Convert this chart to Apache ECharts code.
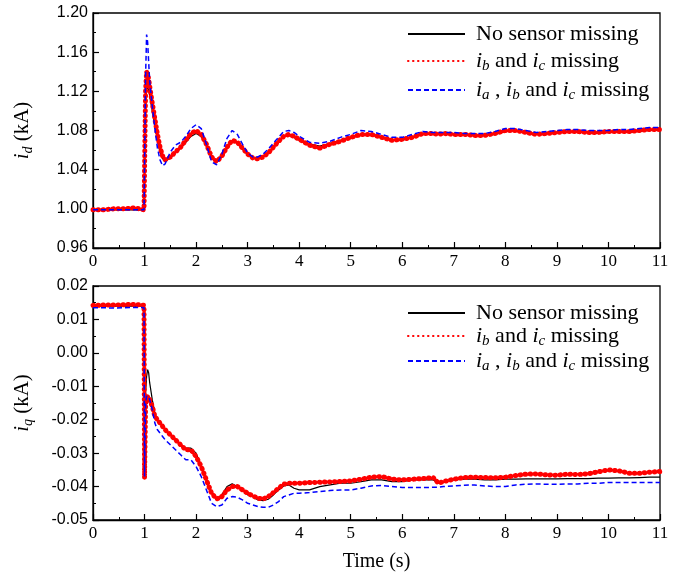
<!DOCTYPE html>
<html><head><meta charset="utf-8">
<script src="https://cdn.jsdelivr.net/npm/echarts@6/dist/echarts.min.js"></script>
<style>html,body{margin:0;padding:0;background:#fff}#c{width:682px;height:576px}</style>
</head><body><div id="c"></div>
<script>
const time = [0,0.2,0.4,0.6,0.8,0.99,1.0,1.02,1.04,1.06,1.08,1.1,1.15,1.2,1.25,1.3,1.35,1.4,
1.5,1.6,1.7,1.8,1.9,2.0,2.1,2.2,2.3,2.4,2.5,2.6,2.7,2.8,2.9,3.0,3.1,3.2,3.3,3.4,3.5,3.6,3.7,3.8,3.9,4.0,
4.2,4.4,4.6,4.8,5.0,5.2,5.4,5.6,5.8,6.0,6.2,6.4,6.6,6.7,6.8,
7.0,7.2,7.4,7.6,7.8,8.0,8.2,8.4,8.6,8.8,9.0,9.2,9.4,9.6,9.8,10.0,10.2,10.4,10.6,10.8,11.0];

const idNone = [0.999,0.999,0.999,0.999,0.999,0.999,1.000,1.100,1.125,1.127,1.122,1.115,1.100,1.085,1.070,1.058,1.051,1.049,
1.052,1.057,1.062,1.068,1.074,1.077,1.074,1.064,1.052,1.048,1.053,1.062,1.069,1.067,1.061,1.055,1.052,1.051,1.053,1.057,1.063,1.069,1.074,1.075,1.073,1.070,
1.066,1.064,1.067,1.070,1.073,1.076,1.076,1.073,1.070,1.070,1.073,1.076,1.076,1.076,1.076,
1.076,1.075,1.075,1.075,1.076,1.079,1.080,1.077,1.076,1.077,1.078,1.079,1.078,1.078,1.077,1.078,1.079,1.078,1.079,1.080,1.080];
const idBC = [0.999,0.999,1.000,1.000,1.001,0.999,1.000,1.120,1.140,1.138,1.133,1.125,1.108,1.092,1.076,1.063,1.054,1.050,
1.053,1.058,1.063,1.070,1.077,1.080,1.076,1.066,1.053,1.048,1.054,1.063,1.070,1.068,1.062,1.056,1.052,1.051,1.053,1.057,1.063,1.069,1.074,1.076,1.074,1.071,
1.065,1.062,1.066,1.069,1.073,1.076,1.076,1.073,1.070,1.071,1.073,1.077,1.077,1.076,1.077,
1.076,1.076,1.075,1.075,1.077,1.080,1.080,1.078,1.076,1.077,1.078,1.079,1.079,1.078,1.078,1.079,1.079,1.079,1.080,1.081,1.081];
const idABC = [0.999,0.999,0.999,0.999,0.999,0.999,1.000,1.135,1.178,1.170,1.150,1.130,1.105,1.082,1.062,1.050,1.044,1.046,
1.058,1.065,1.068,1.074,1.082,1.086,1.082,1.066,1.048,1.045,1.056,1.072,1.080,1.076,1.066,1.057,1.053,1.053,1.056,1.061,1.067,1.073,1.079,1.080,1.078,1.074,
1.068,1.067,1.069,1.073,1.076,1.080,1.079,1.076,1.073,1.073,1.076,1.079,1.078,1.078,1.078,
1.078,1.077,1.077,1.077,1.079,1.082,1.082,1.080,1.078,1.079,1.080,1.081,1.081,1.080,1.080,1.080,1.081,1.081,1.082,1.083,1.083];

const iqNone = [0.0140,0.0140,0.0140,0.0140,0.0140,0.0140,-0.0300,-0.012,-0.007,-0.005,-0.006,-0.009,-0.014,-0.018,-0.020,-0.021,-0.022,-0.023,
-0.0245,-0.026,-0.0275,-0.0285,-0.0285,-0.030,-0.034,-0.038,-0.042,-0.0438,-0.0425,-0.040,-0.0392,-0.040,-0.041,-0.0425,-0.043,-0.044,-0.0442,-0.0438,-0.0425,-0.041,-0.0398,-0.0395,-0.0405,-0.041,
-0.041,-0.040,-0.0395,-0.039,-0.039,-0.0385,-0.038,-0.038,-0.0385,-0.0385,-0.038,-0.038,-0.038,-0.039,-0.0385,
-0.038,-0.0378,-0.0378,-0.038,-0.038,-0.0378,-0.0378,-0.0377,-0.0377,-0.0377,-0.0377,-0.0376,-0.0376,-0.0376,-0.0375,-0.0375,-0.0374,-0.0374,-0.0373,-0.0372,-0.0372];
const iqBC = [0.0142,0.0143,0.0143,0.0144,0.0145,0.0142,-0.0375,-0.016,-0.014,-0.013,-0.013,-0.014,-0.016,-0.019,-0.020,-0.021,-0.022,-0.023,
-0.0245,-0.026,-0.0275,-0.029,-0.029,-0.031,-0.034,-0.038,-0.042,-0.0437,-0.043,-0.041,-0.040,-0.040,-0.041,-0.042,-0.0428,-0.0435,-0.0437,-0.043,-0.0418,-0.0405,-0.0393,-0.039,-0.039,-0.039,
-0.0388,-0.0387,-0.0386,-0.0385,-0.0383,-0.0378,-0.0372,-0.037,-0.0378,-0.038,-0.0378,-0.0376,-0.0373,-0.039,-0.0385,
-0.0378,-0.0373,-0.0372,-0.0373,-0.0374,-0.0372,-0.0367,-0.0363,-0.0362,-0.0365,-0.0366,-0.0363,-0.0364,-0.0362,-0.0356,-0.035,-0.0353,-0.036,-0.036,-0.0357,-0.0355];
const iqABC = [0.0135,0.0135,0.0134,0.0135,0.0136,0.0135,-0.0370,-0.015,-0.013,-0.0125,-0.013,-0.014,-0.017,-0.021,-0.023,-0.024,-0.025,-0.026,
-0.0275,-0.029,-0.0305,-0.032,-0.032,-0.034,-0.037,-0.041,-0.045,-0.046,-0.0455,-0.0435,-0.043,-0.0432,-0.044,-0.045,-0.0455,-0.046,-0.0462,-0.0462,-0.0455,-0.0445,-0.043,-0.0425,-0.042,-0.042,
-0.0418,-0.0415,-0.0412,-0.041,-0.041,-0.0405,-0.0398,-0.0397,-0.040,-0.0403,-0.0403,-0.0403,-0.0402,-0.0402,-0.040,
-0.0398,-0.0396,-0.0395,-0.0398,-0.040,-0.040,-0.0395,-0.0393,-0.0392,-0.0393,-0.0393,-0.0392,-0.0392,-0.039,-0.039,-0.0388,-0.0388,-0.0388,-0.0388,-0.0388,-0.0388];

const xTicks = [0,1,2,3,4,5,6,7,8,9,10,11];
const seriesNames = ['No sensor missing','i_b and i_c missing','i_a , i_b and i_c missing'];

const pair = (ys) => time.map((t,i)=>[t, ys[i]]);
const serif = 'Liberation Serif, Times New Roman, serif';
const sans = 'Liberation Sans, Arial, sans-serif';

const legendRich = {
  n:{fontFamily:serif,fontSize:22,lineHeight:26,color:'#000',verticalAlign:'middle'},
  i:{fontFamily:serif,fontSize:22,fontStyle:'italic',lineHeight:26,color:'#000',verticalAlign:'middle'},
  s:{fontFamily:serif,fontSize:15,fontStyle:'italic',lineHeight:15,color:'#000',verticalAlign:'bottom'},
  p:{width:6}
};
function legendFmt(name){
  if(name===seriesNames[0]) return '{p|}{n|No sensor missing}';
  if(name===seriesNames[1]) return '{p|}{i|i}{s|b}{n| and }{i|i}{s|c}{n| missing}';
  return '{p|}{i|i}{s|a}{n| , }{i|i}{s|b}{n| and }{i|i}{s|c}{n| missing}';
}

const styles = [
  {color:'#000000', lineStyle:{color:'#000',width:1.2,type:'solid'}},
  {color:'#ff0000', lineStyle:{color:'#ff0000',width:5,type:[0.5,4.5],cap:'round'}},
  {color:'#0000ff', lineStyle:{color:'#0000ff',width:1.5,type:[5,3]}}
];

function xAxisCfg(gi, withName){
  const a = {
    type:'value', gridIndex:gi, min:0, max:11, interval:1,
    axisLine:{show:true,onZero:false,lineStyle:{color:'#000',width:1.3}},
    axisTick:{show:true,inside:true,length:6,lineStyle:{color:'#000',width:1.2}},
    minorTick:{show:true,splitNumber:2,length:3,lineStyle:{color:'#000',width:1}},
    splitLine:{show:false},
    axisLabel:{fontFamily:serif,fontSize:17,color:'#000',margin:5,
      formatter:(v)=> xTicks.includes(v) ? String(v) : ''}
  };
  if(withName){
    a.name='Time (s)'; a.nameLocation='middle'; a.nameGap=32;
    a.nameTextStyle={fontFamily:serif,fontSize:20,color:'#000'};
  }
  return a;
}
function yAxisCfg(gi, min, max, interval, sub){
  return {
    type:'value', gridIndex:gi, min:min, max:max, interval:interval,
    axisLine:{show:true,onZero:false,lineStyle:{color:'#000',width:1.3}},
    axisTick:{show:true,inside:true,length:6,lineStyle:{color:'#000',width:1.2}},
    minorTick:{show:true,splitNumber:2,length:3,lineStyle:{color:'#000',width:1}},
    splitLine:{show:false},
    axisLabel:{fontFamily:sans,fontSize:16,color:'#000',margin:5,formatter:(v)=>v.toFixed(2)},
    name:'{i|i}{s|'+sub+'}{n| (kA)}', nameLocation:'middle', nameGap:58,
    nameTextStyle:{rich:{
      i:{fontFamily:serif,fontSize:21,fontStyle:'italic',lineHeight:26,color:'#000',verticalAlign:'middle'},
      s:{fontFamily:serif,fontSize:14,fontStyle:'italic',lineHeight:14,color:'#000',verticalAlign:'bottom'},
      n:{fontFamily:serif,fontSize:21,lineHeight:26,color:'#000',verticalAlign:'middle'}
    }}
  };
}

const data = [[idNone,idBC,idABC],[iqNone,iqBC,iqABC]];
const series = [];
for(let g=0; g<2; g++){
  for(let k=0;k<3;k++){
    series.push({
      type:'line', name:seriesNames[k], xAxisIndex:g, yAxisIndex:g,
      data:pair(data[g][k]), showSymbol:false, symbol:'none', animation:false,
      itemStyle:{color:styles[k].color}, lineStyle:styles[k].lineStyle, z:2+k
    });
  }
}

const legendBase = {orient:'vertical',left:402,itemWidth:57,itemHeight:10,
  data:seriesNames,formatter:legendFmt,textStyle:{rich:legendRich},selectedMode:false,
  itemStyle:{opacity:0}};

const chart = echarts.init(document.getElementById('c'), null, {renderer:'canvas'});
chart.setOption({
  backgroundColor:'#fff',
  animation:false,
  grid:[
    {left:93,top:13,width:567,height:235,show:true,borderColor:'#000',borderWidth:1.3,backgroundColor:'transparent'},
    {left:93,top:286,width:567,height:234,show:true,borderColor:'#000',borderWidth:1.3,backgroundColor:'transparent'}
  ],
  xAxis:[xAxisCfg(0,false), xAxisCfg(1,true)],
  yAxis:[yAxisCfg(0,0.96,1.20,0.04,'d'), yAxisCfg(1,-0.05,0.02,0.01,'q')],
  legend:[
    Object.assign({}, legendBase, {top:18,itemGap:5}),
    Object.assign({}, legendBase, {top:297,itemGap:1})
  ],
  series:series
});
</script></body></html>
